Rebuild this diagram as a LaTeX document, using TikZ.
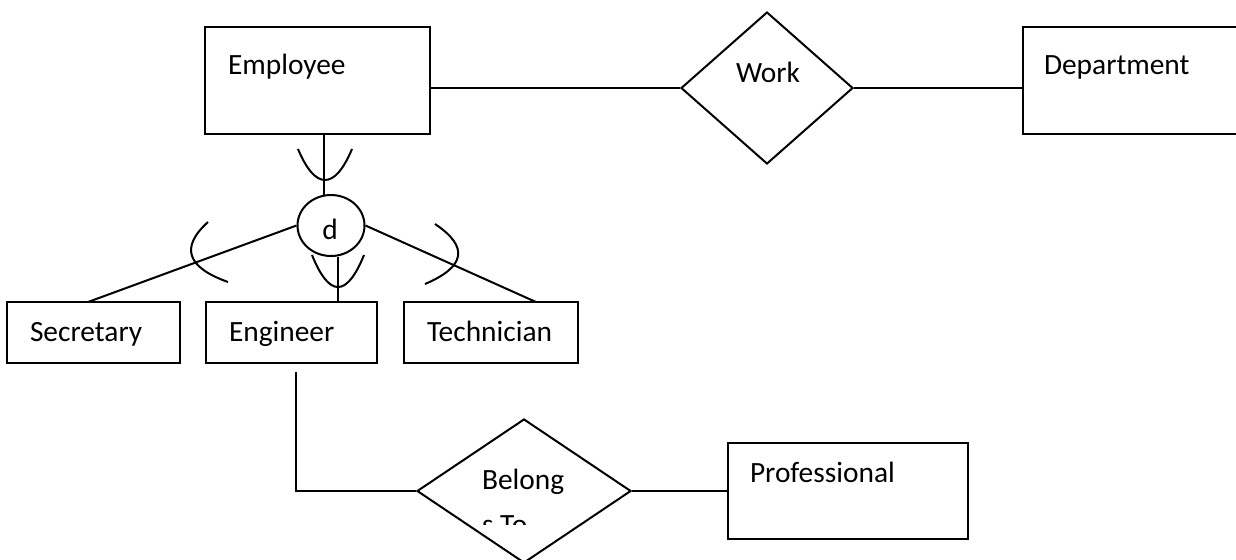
\documentclass[tikz,border=0pt]{standalone}
\usepackage{fontspec}
\setmainfont{Carlito}
\usetikzlibrary{shapes.geometric}
\begin{document}
\begin{tikzpicture}[x=0.5pt, y=-0.5pt, line width=1pt,
  entity/.style={draw, rectangle, inner sep=0pt},
  rel/.style={draw, diamond, inner sep=0pt},
  disj/.style={draw, ellipse, inner sep=0pt, minimum width=33.5pt, minimum height=30.5pt},
  txt/.style={anchor=base west, inner sep=0pt, font=\fontsize{14.7}{17.6}\selectfont},
  conn/.style={draw, line width=1pt},
  subsetarc/.style={draw, line width=1pt}]
% page frame
\clip (0,0) rectangle (1236,559);
\fill[white] (0,0) rectangle (1236,559);

% entities and relationships
\node[entity, minimum width=112.5pt, minimum height=53.5pt] (emp)  at (317.5,80.5) {};
\node[entity, minimum width=113.5pt, minimum height=53.5pt] (dept) at (1136.5,80.5) {};
\node[rel, minimum width=86pt, minimum height=76pt] (work) at (767,88) {};
\node[disj] (dd) at (331,225.5) {};
\node[entity, minimum width=86.5pt, minimum height=30.5pt] (sec)  at (93.5,332.5) {};
\node[entity, minimum width=85.5pt, minimum height=30.5pt] (eng)  at (291.5,332.5) {};
\node[entity, minimum width=87pt,   minimum height=30.5pt] (tech) at (491,332.5) {};
\node[rel, minimum width=107pt, minimum height=72pt] (bel) at (524,491) {};
\node[entity, minimum width=120pt, minimum height=48pt] (prof) at (848,491) {};

% labels
\node[txt] (tEmp)  at (227,74)  {Employee};
\node[txt] (tWork) at (735,82)  {Work};
\node[txt] (tDept) at (1043,74) {Department};
\node[txt] (tSec)  at (29,341)  {Secretary};
\node[txt] (tEng)  at (228,341) {Engineer};
\node[txt] (tTech) at (426,341) {Technician};
\node[txt] (tBel)  at (481,489) {Belong};
\node[txt] (tProf) at (749,482) {Professional};
\node[txt, anchor=base] (tD) at (330,239) {d};
\begin{scope}
  \clip (400,500) rectangle (640,524);
  \node[txt] (tTo) at (481,534) {s To};
\end{scope}

% attachment points
\coordinate (upTop) at (324,195);
\coordinate (secTop) at (88,302);
\coordinate (techTop) at (536,302);
\coordinate (engTop) at (338,302);
\coordinate (engStub) at (296,372);

% connectors
\draw[conn] (work.west) -- (work.west -| emp.east);
\draw[conn] (work.east) -- (work.east -| dept.west);
\draw[conn] (upTop |- emp.south) -- (upTop);
\draw[conn] (dd.west) -- (secTop);
\draw[conn] (dd.east) -- (techTop);
\draw[conn] (engTop |- dd.south) -- (engTop);
\draw[conn] (engStub) -- (engStub |- bel.west) -- (bel.west);
\draw[conn] (bel.east) -- (bel.east -| prof.west);

% subset marks
\draw[subsetarc] (298,149) .. controls (315.3,190.3) and (334.7,190.3) .. (352,149);
\draw[subsetarc] (312,255) .. controls (329.3,297.7) and (346.7,297.7) .. (364,255);
\draw[subsetarc] (208,222) .. controls (180,247.3) and (186.7,267.3) .. (228,282);
\draw[subsetarc] (435,224) .. controls (469,246.7) and (465.7,266.7) .. (425,284);
\end{tikzpicture}
\end{document}
